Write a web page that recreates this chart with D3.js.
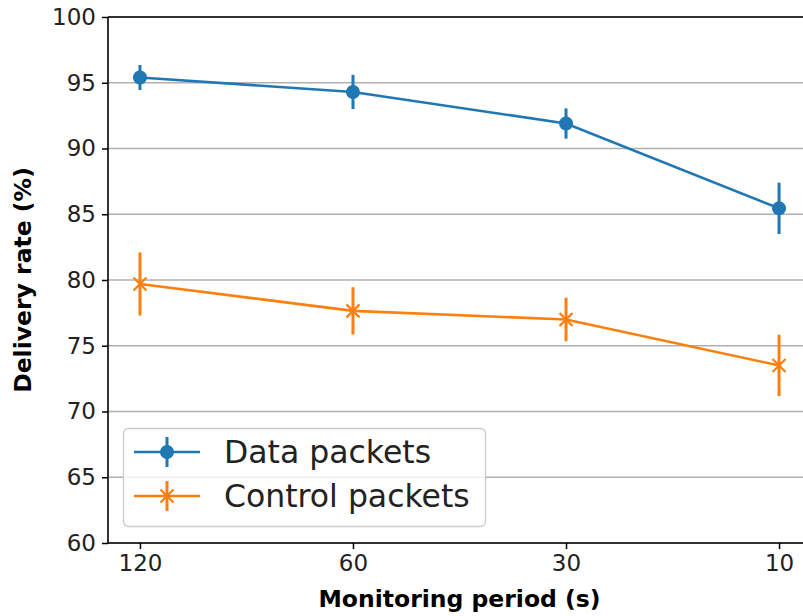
<!DOCTYPE html>
<html>
<head>
<meta charset="utf-8">
<script src="https://cdn.jsdelivr.net/npm/d3@7"></script>
<style>
  body { margin: 0; background: #fff; }
  text { font-family: "DejaVu Sans", sans-serif; }
</style>
</head>
<body>
<div id="container"></div>
<script>
/* CONSTANTS AND GLOBALS */
const width = 803,
      height = 616,
      margin = {top: 17, bottom: 73, left: 108, right: -8};

// x categories (monitoring period) and the two series with error bars
const periods = ["120", "60", "30", "10"];
const dataMean = [95.4, 94.3, 91.9, 85.45];
const dataErr = [0.95, 1.3, 1.15, 1.95];
const ctrlMean = [79.7, 77.65, 77.0, 73.5];
const ctrlErr = [2.4, 1.8, 1.65, 2.33];
const yTicks = [60, 65, 70, 75, 80, 85, 90, 95, 100];

const series = [
  {name: "Data packets", color: "#1f77b4", marker: "circle", mean: dataMean, err: dataErr},
  {name: "Control packets", color: "#ff7f0e", marker: "x", mean: ctrlMean, err: ctrlErr}
];

const svg = d3.select("#container")
  .append("svg")
  .attr("width", width)
  .attr("height", height);

// + SCALES
const xScale = d3.scaleLinear()
  .domain([-0.15, periods.length - 1 + 0.15])
  .range([margin.left, width - margin.right]);

const yScale = d3.scaleLinear()
  .domain([60, 100])
  .range([height - margin.bottom, margin.top]);

// gridlines
svg.append("g")
  .selectAll("line")
  .data(yTicks)
  .join("line")
  .attr("x1", margin.left)
  .attr("x2", width - margin.right)
  .attr("y1", d => yScale(d))
  .attr("y2", d => yScale(d))
  .attr("stroke", "#b0b0b0")
  .attr("stroke-width", 1.3);

// + AXES
const yAxis = d3.axisLeft(yScale).tickValues(yTicks).tickSize(6).tickPadding(6);
const xAxis = d3.axisBottom(xScale).tickValues(d3.range(periods.length))
  .tickFormat(i => periods[i]).tickSize(6).tickPadding(6);

const gy = svg.append("g")
  .attr("transform", `translate(${margin.left},0)`)
  .call(yAxis);
const gx = svg.append("g")
  .attr("transform", `translate(0,${height - margin.bottom})`)
  .call(xAxis);

[gx, gy].forEach(g => {
  g.select(".domain").remove();
  g.selectAll(".tick line").attr("stroke", "#000").attr("stroke-width", 1.5);
  g.selectAll(".tick text").attr("fill", "#222").style("font-size", "23px");
});

// spines
svg.append("line")
  .attr("x1", margin.left).attr("x2", margin.left)
  .attr("y1", margin.top).attr("y2", height - margin.bottom)
  .attr("stroke", "#000").attr("stroke-width", 1.6);
svg.append("line")
  .attr("x1", margin.left).attr("x2", width)
  .attr("y1", height - margin.bottom).attr("y2", height - margin.bottom)
  .attr("stroke", "#000").attr("stroke-width", 1.6);
svg.append("line")
  .attr("x1", margin.left).attr("x2", width)
  .attr("y1", margin.top).attr("y2", margin.top)
  .attr("stroke", "#000").attr("stroke-width", 1.6);

// axis labels
svg.append("text")
  .attr("x", (margin.left + width - margin.right) / 2)
  .attr("y", 607)
  .attr("text-anchor", "middle")
  .style("font-size", "23.5px")
  .style("font-weight", "bold")
  .text("Monitoring period (s)");

svg.append("text")
  .attr("transform", `translate(31,${(margin.top + height - margin.bottom) / 2}) rotate(-90)`)
  .attr("text-anchor", "middle")
  .style("font-size", "23.5px")
  .style("font-weight", "bold")
  .text("Delivery rate (%)");

function drawMarker(g, type, color, cx, cy) {
  if (type === "circle") {
    g.append("circle").attr("cx", cx).attr("cy", cy).attr("r", 7).attr("fill", color);
  } else {
    const s = 6.5;
    g.append("path")
      .attr("d", `M${cx - s},${cy - s}L${cx + s},${cy + s}M${cx - s},${cy + s}L${cx + s},${cy - s}`)
      .attr("stroke", color).attr("stroke-width", 2.2).attr("fill", "none");
  }
}

const line = d3.line()
  .x((d, i) => xScale(i))
  .y(d => yScale(d));

series.forEach(s => {
  const g = svg.append("g");
  g.append("path")
    .datum(s.mean)
    .attr("d", line)
    .attr("fill", "none")
    .attr("stroke", s.color)
    .attr("stroke-width", 2.6);
  g.selectAll("line.err")
    .data(s.mean)
    .join("line")
    .attr("class", "err")
    .attr("x1", (d, i) => xScale(i))
    .attr("x2", (d, i) => xScale(i))
    .attr("y1", (d, i) => yScale(d + s.err[i]))
    .attr("y2", (d, i) => yScale(d - s.err[i]))
    .attr("stroke", s.color)
    .attr("stroke-width", 3);
  s.mean.forEach((d, i) => drawMarker(g, s.marker, s.color, xScale(i), yScale(d)));
});

// legend
const legend = svg.append("g");
legend.append("rect")
  .attr("x", 123.5).attr("y", 428.5)
  .attr("width", 362).attr("height", 98)
  .attr("rx", 5)
  .attr("fill", "#fff").attr("fill-opacity", 0.8)
  .attr("stroke", "#ccc").attr("stroke-width", 1.3);

series.forEach((s, i) => {
  const y = 452 + i * 44;
  legend.append("line")
    .attr("x1", 134).attr("x2", 200)
    .attr("y1", y).attr("y2", y)
    .attr("stroke", s.color).attr("stroke-width", 2.6);
  legend.append("line")
    .attr("x1", 167).attr("x2", 167)
    .attr("y1", y - 15).attr("y2", y + 15)
    .attr("stroke", s.color).attr("stroke-width", 3);
  drawMarker(legend, s.marker, s.color, 167, y);
  legend.append("text")
    .attr("x", 224)
    .attr("y", y + 11)
    .style("font-size", "31.5px")
    .attr("fill", "#222")
    .text(s.name);
});
</script>
</body>
</html>
